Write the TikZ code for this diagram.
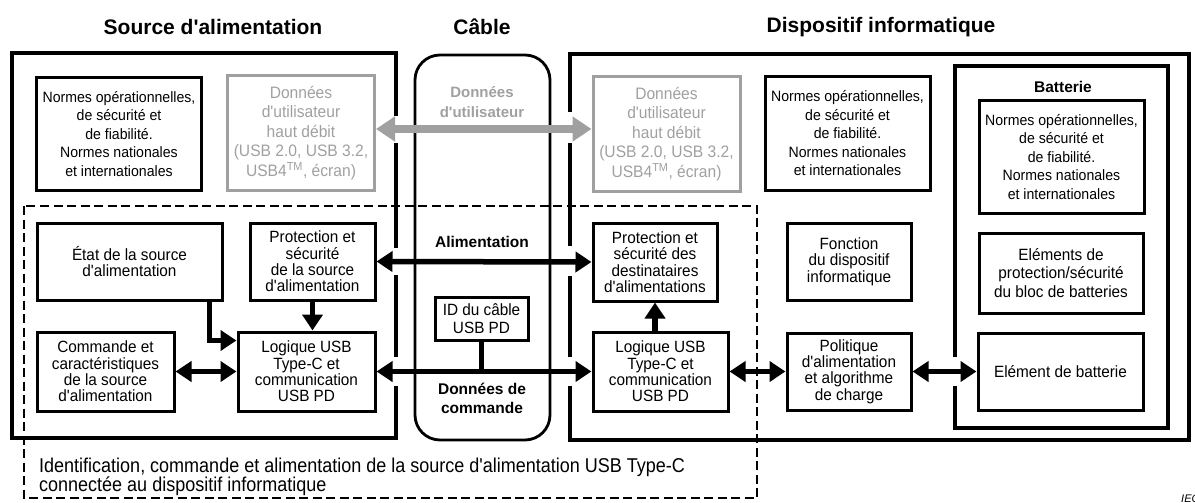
\documentclass[tikz,border=0pt]{standalone}
\usepackage{fontspec}
\setmainfont{Liberation Sans}[Ligatures=TeXOff]
\newfontfamily\narrowsans{Liberation Sans}[Ligatures=TeXOff,FakeStretch=0.94]
\newfontfamily\captionsans{Liberation Sans}[Ligatures=TeXOff,FakeStretch=0.9]
\usetikzlibrary{arrows.meta}
\definecolor{datagray}{RGB}{160,160,160}

\begin{document}
\begin{tikzpicture}[x=1pt,y=-1pt,
	frame/.style={line width=4.2pt,line join=miter},
	cableframe/.style={line width=2.8pt,rounded corners=25pt},
	idframe/.style={line width=2.6pt,dash pattern=on 9pt off 4.5pt},
	blk/.style={draw=black,line width=3pt,align=center,inner sep=0pt,font=\narrowsans\fontsize{16.3}{16.4}\selectfont},
	normbox/.style={blk,minimum width=165pt,minimum height=113pt,font=\narrowsans\fontsize{15}{18.5}\selectfont},
	databox/.style={blk,draw=datagray,text=datagray,minimum width=147pt,minimum height=115pt,font=\narrowsans\fontsize{16.6}{19.5}\selectfont},
	lbl/.style={font=\bfseries\fontsize{15.5}{19}\selectfont,align=center},
	title/.style={font=\bfseries\fontsize{21}{24}\selectfont},
	arr/.style={line width=5.5pt,-{Triangle[length=16pt,width=20pt]}},
	dblarr/.style={line width=5.5pt,{Triangle[length=16pt,width=20pt]}-{Triangle[length=16pt,width=20pt]}},
	grayarr/.style={line width=7.5pt,draw=datagray,{Triangle[length=19pt,width=24pt]}-{Triangle[length=19pt,width=24pt]}}]
	\useasboundingbox (0,0) rectangle (1195,503);

	% titles
	\node[title] (ttlsrc) at (213,27) {Source d'alimentation};
	\node[title] (ttlcable) at (482,27) {Câble};
	\node[title] (ttldev) at (881,27) {Dispositif informatique};

	% frames, open where the connectors pass
	\draw[frame] (396,116) -- (396,53) -- (12,53) -- (12,438) -- (396,438) -- (396,386);
	\draw[frame] (396,143) -- (396,248);
	\draw[frame] (396,275) -- (396,357);
	\draw[frame] (570,112) -- (570,54) -- (1189,54) -- (1189,440) -- (570,440) -- (570,386);
	\draw[frame] (570,143) -- (570,246);
	\draw[frame] (570,276) -- (570,357);
	\draw[frame] (955,357) -- (955,66) -- (1168,66) -- (1168,428) -- (955,428) -- (955,386);
	\draw[cableframe] (415,55) rectangle (550,440);
	\draw[idframe] (24,206) rectangle (757,498);

	% standards boxes
	\foreach \nm/\x/\y in {srcnorm/119/134,devnorm/847.5/133.5,batnorm/1061.5/157} {
		\node[normbox] (\nm) at (\x,\y) {Normes opérationnelles,\\de sécurité et\\de fiabilité.\\Normes nationales\\et internationales};
		}

	% user data
	\node[databox] (srcdata) at (301,133) {Données\\d'utilisateur\\haut débit\\(USB 2.0, USB 3.2,\\USB4\textsuperscript{TM}, écran)};
	\node[databox] (devdata) at (666.5,134) {Données\\d'utilisateur\\haut débit\\(USB 2.0, USB 3.2,\\USB4\textsuperscript{TM}, écran)};
	\node[lbl,text=datagray,font=\bfseries\fontsize{15}{20}\selectfont] (cabledata) at (482,102) {Données\\d'utilisateur};

	% power source
	\node[blk,minimum width=185pt,minimum height=77pt] (srcetat) at (129.5,261.5) {État de la source\\d'alimentation};
	\node[blk,minimum width=125pt,minimum height=77pt] (srcprot) at (312.5,261.5) {Protection et\\sécurité\\de la source\\d'alimentation};
	\node[blk,minimum width=137pt,minimum height=79pt] (srccmd) at (105.5,371.5) {Commande et\\caractéristiques\\de la source\\d'alimentation};
	\node[blk,minimum width=137pt,minimum height=79pt] (srclog) at (306.5,371.5) {Logique USB\\Type-C et\\communication\\USB PD};

	% cable
	\node[lbl] (alim) at (482,242) {Alimentation};
	\node[blk,minimum width=93pt,minimum height=43pt,font=\narrowsans\fontsize{16.3}{18}\selectfont] (cableid) at (481.5,318.5) {ID du câble\\USB PD};
	\node[lbl] (cmddata) at (482,398.5) {Données de\\commande};

	% computing device
	\node[blk,minimum width=124pt,minimum height=78pt] (devprot) at (655,262) {Protection et\\sécurité des\\destinataires\\d'alimentations};
	\node[blk,minimum width=135pt,minimum height=79pt] (devlog) at (660.5,371.5) {Logique USB\\Type-C et\\communication\\USB PD};
	\node[blk,minimum width=124pt,minimum height=77pt] (devfunc) at (849,261.5) {Fonction\\du dispositif\\informatique};
	\node[blk,minimum width=124pt,minimum height=77pt] (devpol) at (849,371.5) {Politique\\d'alimentation\\et algorithme\\de charge};

	% battery
	\node[lbl] (battitle) at (1063,87) {Batterie};
	\node[blk,minimum width=164pt,minimum height=80pt,font=\narrowsans\fontsize{16.3}{18.5}\selectfont] (batprot) at (1061,273) {Eléments de\\protection/sécurité\\du bloc de batteries};
	\node[blk,minimum width=165pt,minimum height=77pt] (batcell) at (1060.5,371.5) {Elément de batterie};

	% connectors
	\draw[grayarr] ([yshift=4pt]srcdata.east) -- ([yshift=4pt]srcdata.east -| devdata.west);
	\draw[dblarr] (srcprot.east) -- (devprot.west);
	\draw[dblarr] (srclog.east) -- (devlog.west);
	\draw[line width=5pt] (cableid.south) -- (cableid.south |- srclog.east);
	\draw[arr] ([xshift=-14pt]srcetat.south east) |- ([yshift=-10pt]srclog.north west);
	\draw[arr] (srcprot.south) -- (srcprot.south |- srclog.north);
	\draw[dblarr] (srccmd.east) -- (srclog.west);
	\draw[arr] (devprot.south |- devlog.north) -- (devprot.south);
	\draw[dblarr] (devlog.east) -- (devpol.west);
	\draw[dblarr] (devpol.east) -- (batcell.west);

	% caption of the dashed area
	\node[anchor=west,align=left,inner sep=0pt,font=\captionsans\fontsize{20}{19.5}\selectfont] (idtext) at (39,477) {Identification, commande et alimentation de la source d'alimentation USB Type-C\\connectée au dispositif informatique};
	\node[anchor=north west,inner sep=0pt,font=\itshape\fontsize{11}{12}\selectfont] (iec) at (1181,495) {IEC};
\end{tikzpicture}
\end{document}
